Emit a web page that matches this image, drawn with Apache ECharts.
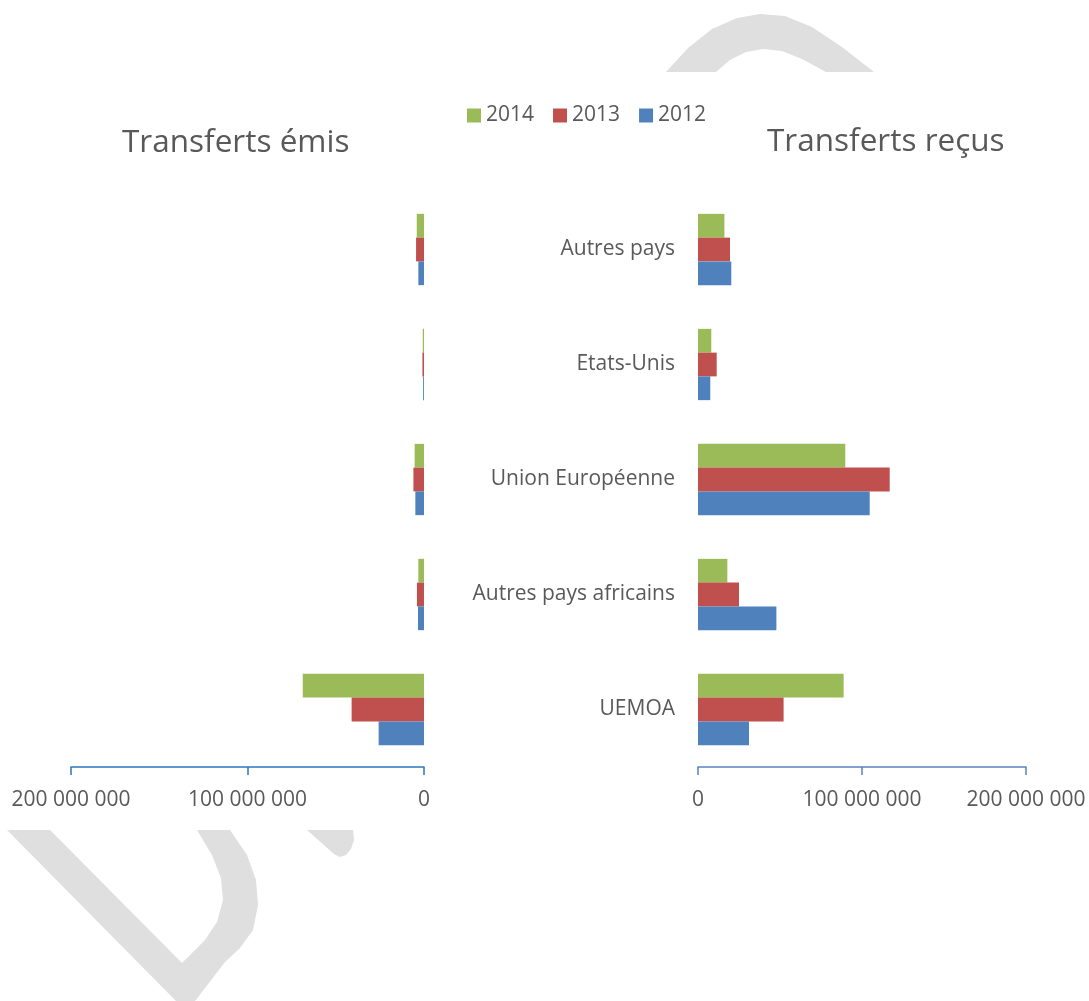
<!DOCTYPE html>
<html>
<head>
<meta charset="utf-8">
<script src="https://cdn.jsdelivr.net/npm/echarts@6/dist/echarts.min.js"></script>
<style>
  html, body { margin: 0; padding: 0; background: #fff; }
  #chart { width: 1089px; height: 1001px; }
</style>
</head>
<body>
<div id="chart"></div>
<script>
// categories, bottom to top (like excel)
const categories = ['UEMOA', 'Autres pays africains', 'Union Européenne', 'Etats-Unis', 'Autres pays']
const years = ['2014', '2013', '2012']
const xTicks = [0, 100000000, 200000000]

// Transferts émis
const emis2014 = [68700000, 3200000, 5300000, 700000, 4100000]
const emis2013 = [41000000, 4000000, 6000000, 900000, 4500000]
const emis2012 = [25700000, 3400000, 4900000, 500000, 3200000]

// Transferts reçus
const recus2014 = [88800000, 17900000, 89800000, 8100000, 16100000]
const recus2013 = [52200000, 25000000, 116900000, 11400000, 19500000]
const recus2012 = [31100000, 47800000, 104700000, 7500000, 20300000]

const colors = { '2014': '#9BBB59', '2013': '#C0504D', '2012': '#4F81BD' }
const textColor = '#595959'
const font = '"Open Sans", "Noto Sans", sans-serif'

const fmt = (v) => String(v).replace(/\B(?=(\d{3})+(?!\d))/g, ' ')

const makeX = (gridIndex, inverse, lineColor) => ({
  type: 'value',
  gridIndex: gridIndex,
  inverse: inverse,
  min: xTicks[0],
  max: xTicks[xTicks.length - 1],
  interval: xTicks[1] - xTicks[0],
  axisLine: { show: true, lineStyle: { color: lineColor, width: 1.5 } },
  axisTick: { show: true, length: 8, lineStyle: { color: lineColor, width: 1.5 } },
  splitLine: { show: false },
  axisLabel: { color: textColor, fontSize: 21, fontFamily: font, margin: 23, formatter: fmt },
})

const makeBar = (name, data, idx) => ({
  name: name,
  type: 'bar',
  xAxisIndex: idx,
  yAxisIndex: idx,
  data: data,
  barGap: '0%',
  barCategoryGap: '38%',
  itemStyle: { color: colors[name] },
})

// pieces of the grey watermark showing outside the chart area
const wmStyle = { fill: '#DFDFDF' }
const watermark = [
  { type: 'polygon', z: -1, style: wmStyle, shape: { points: [
    [666, 72], [688, 48], [712, 29], [737, 18], [760, 14], [785, 16], [812, 27], [842, 47], [874, 72],
    [826, 72], [802, 59], [782, 51], [763, 49], [746, 52], [730, 60], [716, 72]] } },
  { type: 'polygon', z: -1, style: wmStyle, shape: { points: [
    [7, 830], [50, 830], [182, 963], [205, 940], [217, 922], [223, 900], [221, 878], [212, 855], [197, 830],
    [230, 830], [247, 855], [256, 880], [258, 905], [253, 930], [240, 948], [225, 962], [195, 1001], [176, 1001]] } },
  { type: 'polygon', z: -1, style: wmStyle, shape: { points: [
    [307, 830], [334, 854], [340, 857], [346, 855], [351, 849], [354, 840], [353, 830]] } },
]

const chart = echarts.init(document.getElementById('chart'))

const option = {
  backgroundColor: '#fff',
  animation: false,
  title: [
    { text: 'Transferts émis', left: 117, top: 122, textStyle: { color: textColor, fontSize: 31.5, fontWeight: 'normal', fontFamily: font } },
    { text: 'Transferts reçus', left: 762, top: 121, textStyle: { color: textColor, fontSize: 31.5, fontWeight: 'normal', fontFamily: font } },
  ],
  legend: {
    data: years,
    left: 462,
    top: 100,
    icon: 'rect',
    itemWidth: 14,
    itemHeight: 14,
    itemGap: 19,
    textStyle: { color: textColor, fontSize: 21, fontFamily: font },
  },
  grid: [
    { left: 71, right: 665, top: 192, bottom: 234 },
    { left: 698, right: 63, top: 192, bottom: 234 },
  ],
  xAxis: [
    makeX(0, true, '#2E75C0'),
    makeX(1, false, '#5584C2'),
  ],
  yAxis: [
    {
      type: 'category', gridIndex: 0, data: categories, position: 'right',
      axisLine: { show: false }, axisTick: { show: false }, axisLabel: { show: false },
    },
    {
      type: 'category', gridIndex: 1, data: categories,
      axisLine: { show: false }, axisTick: { show: false },
      axisLabel: { color: textColor, fontSize: 21, fontFamily: font, margin: 23 },
    },
  ],
  // first series sits on top of each group
  series: [
    makeBar('2014', emis2014, 0),
    makeBar('2013', emis2013, 0),
    makeBar('2012', emis2012, 0),
    makeBar('2014', recus2014, 1),
    makeBar('2013', recus2013, 1),
    makeBar('2012', recus2012, 1),
  ],
  graphic: watermark,
}

chart.setOption(option)
window.addEventListener('resize', () => chart.resize())
</script>
</body>
</html>
